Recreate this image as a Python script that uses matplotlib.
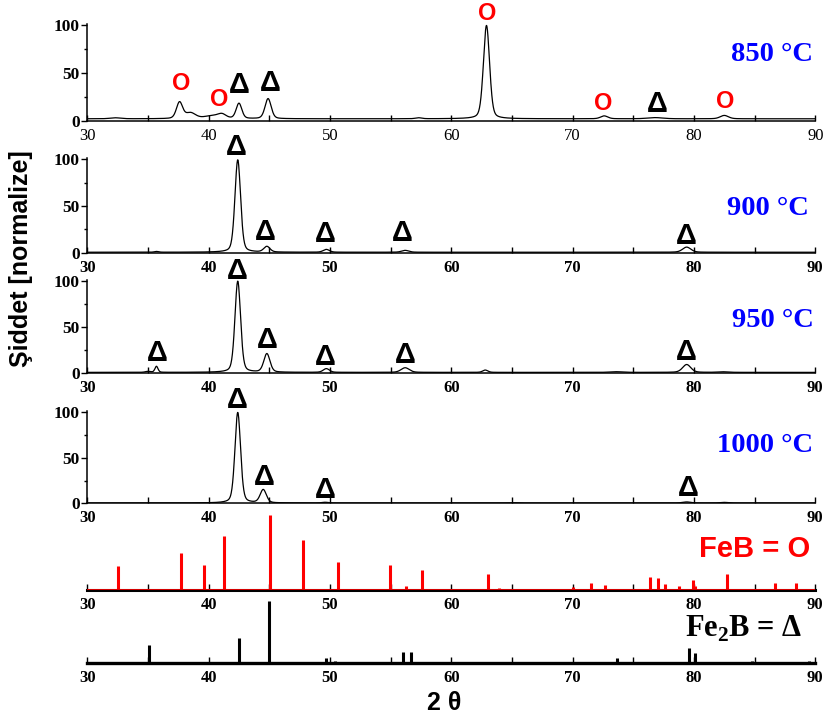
import numpy as np
import matplotlib
matplotlib.use("Agg")
import matplotlib.pyplot as plt
from matplotlib.ticker import MultipleLocator

plt.rcParams['mathtext.fontset'] = 'custom'
plt.rcParams['mathtext.rm'] = 'Liberation Serif:bold'
plt.rcParams['mathtext.bf'] = 'Liberation Serif:bold'

# ---- measured XRD patterns, described by their reflections ----
# each pattern: peak positions (2θ), heights (normalised %), FWHM (deg), flat background
temps = ["850 °C", "900 °C", "950 °C", "1000 °C"]

pos_850 = [32.3, 37.6, 38.5, 40.3, 41.1, 42.5, 44.9, 57.3, 62.9, 72.6, 76.8, 82.5]
hgt_850 = [1.0, 17.0, 6.0, 3.0, 4.0, 16.0, 21.0, 1.0, 97.5, 3.0, 1.2, 3.5]
fwhm_850 = [1.0, 0.6, 1.0, 1.5, 0.8, 0.55, 0.6, 0.6, 0.6, 0.7, 1.5, 0.8]
bg_850 = 2.0

pos_900 = [35.7, 42.4, 44.8, 49.7, 56.2, 79.4]
hgt_900 = [0.8, 99.0, 6.0, 3.0, 2.0, 5.5]
fwhm_900 = [0.4, 0.55, 0.6, 0.6, 0.7, 0.8]
bg_900 = 0.5

pos_950 = [35.0, 35.7, 42.4, 44.8, 49.7, 56.2, 62.8, 73.6, 79.4, 82.4]
hgt_950 = [1.0, 6.5, 98.5, 20.0, 4.0, 5.0, 2.5, 0.7, 8.5, 0.6]
fwhm_950 = [0.5, 0.3, 0.55, 0.6, 0.6, 0.8, 0.5, 1.2, 0.8, 1.0]
bg_950 = 1.0

pos_1000 = [42.4, 44.5, 49.6, 65.0, 79.4, 82.5]
hgt_1000 = [99.5, 14.5, 0.8, 0.4, 1.2, 0.7]
fwhm_1000 = [0.55, 0.6, 0.6, 1.0, 0.8, 0.8]
bg_1000 = 0.3

# phase marks above the reflections: symbol, 2θ, height
mk_850_sym = ["O", "O", "Δ", "Δ", "O", "O", "Δ", "O"]
mk_850_x = [37.7, 40.9, 42.55, 45.1, 62.95, 72.55, 76.95, 82.55]
mk_850_y = [39, 22.5, 37, 39.5, 111.5, 17.5, 17.5, 20]

mk_900_sym = ["Δ", "Δ", "Δ", "Δ", "Δ"]
mk_900_x = [42.3, 44.7, 49.6, 56.0, 79.4]
mk_900_y = [113, 22, 20, 21, 18]

mk_950_sym = ["Δ", "Δ", "Δ", "Δ", "Δ", "Δ"]
mk_950_x = [35.75, 42.4, 44.85, 49.65, 56.25, 79.4]
mk_950_y = [21.5, 110, 36, 17.5, 20, 23]

mk_1000_sym = ["Δ", "Δ", "Δ", "Δ"]
mk_1000_x = [42.35, 44.6, 49.65, 79.5]
mk_1000_y = [113.5, 29, 14.5, 16.5]

# reference stick patterns
feb_pos = [32.57, 37.75, 39.64, 41.26, 45.06, 47.77, 50.65, 54.92, 56.3, 57.6,
           63.02, 63.93, 70.0, 71.5, 72.67, 76.34, 77.0, 77.6, 78.76, 79.89,
           80.1, 82.75, 86.7, 88.4]
feb_int = [32, 50, 33, 72, 100, 67, 38, 33, 5, 27,
           22, 3, 4, 10, 7, 17, 16, 8, 5, 13,
           5, 22, 9, 9]

fe2b_pos = [35.07, 42.47, 45.01, 49.64, 50.38, 56.0, 56.67, 73.69, 79.6, 80.1, 84.8, 89.5]
fe2b_int = [30, 40, 100, 8, 4, 18, 18, 8, 24, 16, 4, 4]

x_ticks = [30, 40, 50, 60, 70, 80, 90]
y_ticks = [0, 50, 100]


def pattern(x, pos, hgt, fwhm, bg, eta=0.3):
    y = np.full_like(x, bg)
    for c, h, w in zip(pos, hgt, fwhm):
        t = (x - c) / w
        g = np.exp(-4 * np.log(2) * t ** 2)
        lor = 1.0 / (1.0 + 4 * t ** 2)
        y += h * ((1 - eta) * g + eta * lor)
    return y


W, H = 827, 720
fig = plt.figure(figsize=(W / 100, H / 100), dpi=100)

x0 = 87.3 / W
xw = 728.0 / W


def ax_at(bottom_px, top_px):
    return fig.add_axes([x0, 1 - bottom_px / H, xw, (bottom_px - top_px) / H])


serif = "Liberation Serif"
sans = "Liberation Sans"

curve_axes = [
    (120.7, 24.0),
    (252.7, 158.4),
    (373.3, 279.8),
    (503.3, 411.4),
]
patterns = [
    (pos_850, hgt_850, fwhm_850, bg_850),
    (pos_900, hgt_900, fwhm_900, bg_900),
    (pos_950, hgt_950, fwhm_950, bg_950),
    (pos_1000, hgt_1000, fwhm_1000, bg_1000),
]
marks = [
    (mk_850_sym, mk_850_x, mk_850_y),
    (mk_900_sym, mk_900_x, mk_900_y),
    (mk_950_sym, mk_950_x, mk_950_y),
    (mk_1000_sym, mk_1000_x, mk_1000_y),
]
temp_y = [0.62, 0.40, 0.498, 0.561]
temp_x = [0.997, 0.991, 0.998, 0.997]

x = np.linspace(30, 90, 3001)


def style_x(ax, bold=True):
    ax.set_xlim(30, 90)
    ax.set_xticks(x_ticks)
    ax.xaxis.set_minor_locator(MultipleLocator(5))
    ax.tick_params(axis="x", which="both", direction="in", length=4, width=1, pad=5)
    for lab in ax.get_xticklabels():
        lab.set_family(serif)
        lab.set_fontsize(12)
        lab.set_fontweight("bold" if bold else "normal")


for i, ((b, t), (pos, hgt, fw, bg), (sym, mx, my)) in enumerate(zip(curve_axes, patterns, marks)):
    ax = ax_at(b, t)
    ax.plot(x, pattern(x, pos, hgt, fw, bg), color="black", lw=0.9)
    ax.set_ylim(0, 101)
    ax.set_yticks(y_ticks)
    ax.yaxis.set_minor_locator(MultipleLocator(25))
    ax.tick_params(axis="y", which="major", direction="out", length=4, width=1, pad=1.5)
    ax.tick_params(axis="y", which="minor", direction="out", length=2, width=1)
    for lab in ax.get_yticklabels():
        lab.set_family(serif)
        lab.set_fontsize(12.5)
        lab.set_fontweight("bold")
    style_x(ax, bold=(i != 0))
    for side in ("top", "right"):
        ax.spines[side].set_visible(False)
    for side in ("left", "bottom"):
        ax.spines[side].set_linewidth(1.1)
    ax.patch.set_alpha(0)
    for s, xx, yy in zip(sym, mx, my):
        if s == "O":
            ax.text(xx, yy, s, color="red", fontsize=17, fontweight="bold",
                    family=sans, ha="center", va="center", clip_on=False)
        else:
            ax.text(xx, yy, s, color="black", fontsize=21, fontweight="bold",
                    family=sans, ha="center", va="center", clip_on=False)
    ax.text(temp_x[i], temp_y[i], temps[i], transform=ax.transAxes, color="#0000ff",
            fontsize=20.5, fontweight="bold", family=serif, ha="right", va="baseline")

# FeB reference
ax = ax_at(590, 507.5)
ax.vlines(feb_pos, 0, feb_int, color="red", lw=2.2)
ax.axhline(0, color="red", lw=1.2, zorder=5)
ax.set_ylim(0, 110)
ax.set_yticks([])
for side in ("top", "right", "left"):
    ax.spines[side].set_visible(False)
ax.spines["bottom"].set_linewidth(2.2)
ax.patch.set_alpha(0)
style_x(ax)
ax.text(0.993, 0.40, "FeB = O", transform=ax.transAxes, color="red", fontsize=21,
        fontweight="bold", family=sans, ha="right", va="baseline")

# Fe2B reference
ax = ax_at(663.3, 594.8)
ax.vlines(fe2b_pos, 0, fe2b_int, color="black", lw=2.2)
ax.set_ylim(0, 110)
ax.set_yticks([])
for side in ("top", "right", "left"):
    ax.spines[side].set_visible(False)
ax.spines["bottom"].set_linewidth(2.4)
ax.patch.set_alpha(0)
style_x(ax)
ax.text(0.982, 0.385, r"Fe$_\mathbf{2}$B = Δ", transform=ax.transAxes, color="black",
        fontsize=22, fontweight="bold", family=serif, ha="right", va="baseline")

fig.text(0.025, 1 - 259 / H, "Şiddet [normalize]", rotation=90, ha="center", va="center",
         fontsize=18, fontweight="bold", family=sans)
fig.text(444 / W, 1 - 703 / H, "2 θ", ha="center", va="center",
         fontsize=18, fontweight="bold", family=sans)

fig.savefig("out.png", dpi=100)
